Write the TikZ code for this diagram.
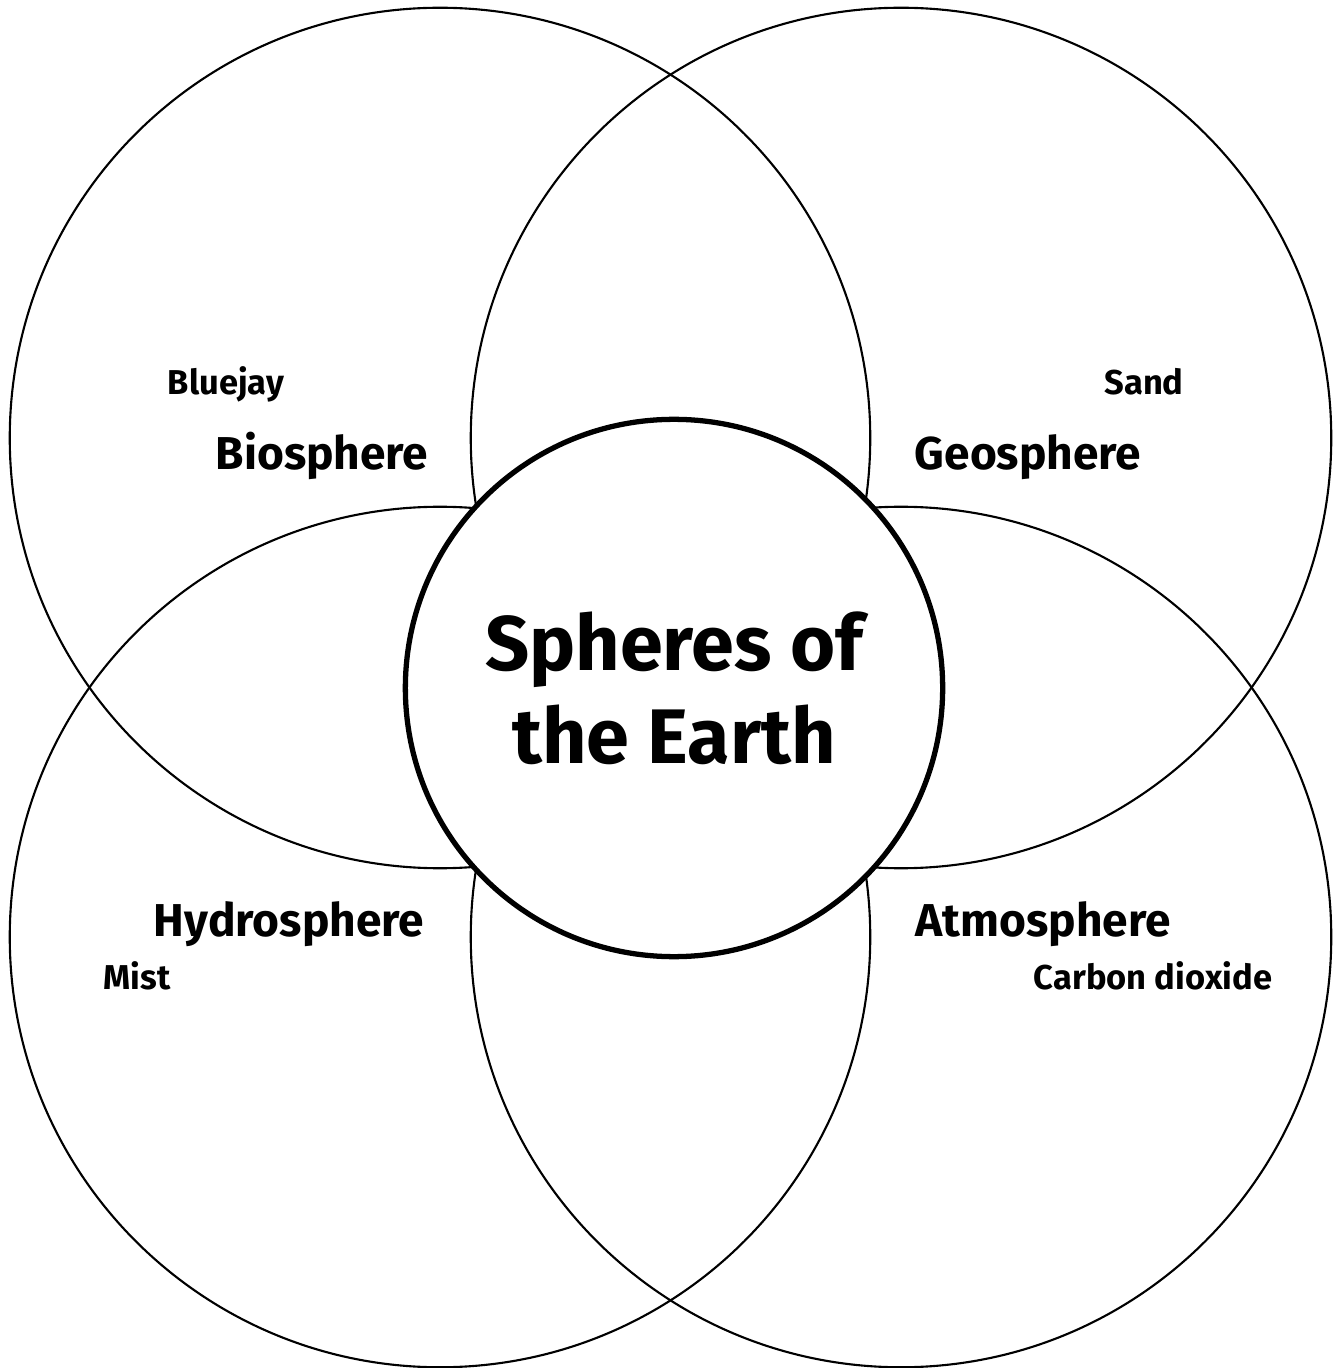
\documentclass[tikz,border=0pt]{standalone}
\usepackage{fontspec}
\setmainfont{Fira Sans}
\usepackage{tikz}
\usetikzlibrary{positioning}

\begin{document}
\begin{tikzpicture}[x=0.01cm,y=-0.01cm,
    sphere/.style={draw,shape=circle,minimum size=8.6cm,inner sep=0,line width=0.6pt},
    core/.style={draw,shape=circle,fill=white,minimum size=5.37cm,inner sep=0,line width=1.5pt},
    bigname/.style={anchor=base,font=\fontsize{13.1}{16}\selectfont\bfseries},
    example/.style={anchor=base,font=\fontsize{9.8}{11}\selectfont\bfseries}]
        \useasboundingbox (0,0) rectangle (1335,1368);
        % the four spheres
        \node[sphere] (bio) at (440,438) {};
        \node[sphere] (geo) at (901,438) {};
        \node[sphere] (hydro) at (440,937) {};
        \node[sphere] (atmo) at (901,937) {};
        % the earth in the middle
        \node[core,align=center,font=\fontsize{22}{26.5}\selectfont\bfseries] (earth) at (674,688) {Spheres of\\the Earth};
        % label the spheres
        \node[bigname] (biolbl) at (322,470) {Biosphere};
        \node[bigname] (geolbl) at (1028,470) {Geosphere};
        \node[bigname] (hydrolbl) at (289,936) {Hydrosphere};
        \node[bigname] (atmolbl) at (1043,936) {Atmosphere};
        % one example in each
        \node[example] (bluejay) at (226,395) {Bluejay};
        \node[example] (sand) at (1144,395) {Sand};
        \node[example] (mist) at (137,989) {Mist};
        \node[example] (co2) at (1153,989) {Carbon dioxide};
      \end{tikzpicture}
\end{document}
